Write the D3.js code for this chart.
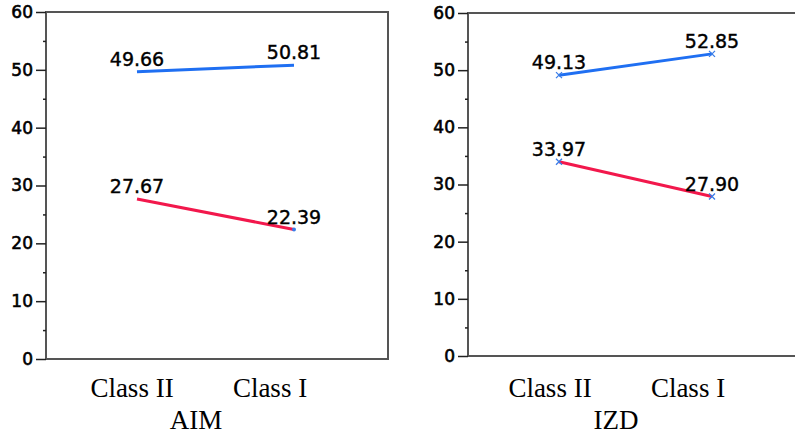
<!DOCTYPE html>
<html>
<head>
<meta charset="utf-8">
<script src="https://cdn.jsdelivr.net/npm/d3@7"></script>
<style>
body { margin: 0; background: #fff; }
.serif { font-family: "Liberation Serif", "DejaVu Serif", serif; }
.sans { font-family: "DejaVu Sans", sans-serif; }
</style>
</head>
<body>
<div id="chart"></div>
<script>
var w = 795
var h = 434

// data
var categories = ["Class II", "Class I"]
var panelTitles = ["AIM", "IZD"]
var upperValues = [[49.66, 50.81], [49.13, 52.85]]
var lowerValues = [[27.67, 22.39], [33.97, 27.90]]
var yTicks = [0, 10, 20, 30, 40, 50, 60]

var svg = d3.select("#chart").append("svg")
    .attr("width", w)
    .attr("height", h)

// panel boxes; cx = where the points sit, lx = where the category labels sit
var panels = [
    { left: 46, right: 388, top: 12, bottom: 359, cx: [137, 294], lx: [132, 270], tx: 196 },
    { left: 468, right: 797, top: 13, bottom: 356, cx: [559, 712], lx: [550, 688], tx: 616 }
]

panels.forEach(function (p, i) {
    var g = svg.append("g")

    var y = d3.scaleLinear().domain([0, 60]).range([p.bottom, p.top])
    var x = d3.scaleOrdinal().domain(categories).range(p.cx)
    var xl = d3.scaleOrdinal().domain(categories).range(p.lx)

    // frame
    g.append("rect")
        .attr("x", p.left)
        .attr("y", p.top)
        .attr("width", p.right - p.left)
        .attr("height", p.bottom - p.top)
        .attr("fill", "none")
        .attr("stroke", "#555")
        .attr("stroke-width", 2)

    // minor ticks
    g.append("g")
        .attr("transform", "translate(" + p.left + ",0)")
        .call(d3.axisLeft(y).tickValues(d3.range(5, 60, 10)).tickSize(3).tickFormat(""))
        .call(function (a) { a.select(".domain").remove() })
        .selectAll("line").attr("stroke", "#222").attr("stroke-width", 1.5)

    // major ticks
    var ax = g.append("g")
        .attr("transform", "translate(" + p.left + ",0)")
        .call(d3.axisLeft(y).tickValues(yTicks).tickSize(10).tickPadding(3))
    ax.attr("font-family", null).attr("font-size", null)
    ax.select(".domain").remove()
    ax.selectAll("line").attr("stroke", "#222").attr("stroke-width", 1.5)
    ax.selectAll("text")
        .attr("class", "sans")
        .style("font-size", "17px")
        .attr("fill", "#000")
        .attr("stroke", "#000")
        .attr("stroke-width", 0.6)

    // category labels
    g.selectAll(".cat")
        .data(categories)
        .enter().append("text")
        .attr("class", "serif")
        .attr("x", function (d) { return xl(d) })
        .attr("y", 397)
        .attr("text-anchor", "middle")
        .style("font-size", "27px")
        .text(function (d) { return d })

    g.append("text")
        .attr("class", "serif")
        .attr("x", p.tx)
        .attr("y", 429)
        .attr("text-anchor", "middle")
        .style("font-size", "27px")
        .text(panelTitles[i])

    var line = d3.line()
        .x(function (d, j) { return x(categories[j]) })
        .y(function (d) { return y(d) })

    var series = [
        { vals: upperValues[i], color: "#1f6ff2" },
        { vals: lowerValues[i], color: "#f2184c" }
    ]

    series.forEach(function (s, k) {
        g.append("path")
            .datum(s.vals)
            .attr("d", line)
            .attr("fill", "none")
            .attr("stroke", s.color)
            .attr("stroke-width", 3)

        // small x markers on the right panel
        if (i == 1) {
            s.vals.forEach(function (v, j) {
                var mx = x(categories[j]), my = y(v)
                g.append("path")
                    .attr("d", "M" + (mx - 3) + "," + (my - 3) + "L" + (mx + 3) + "," + (my + 3) +
                        "M" + (mx - 3) + "," + (my + 3) + "L" + (mx + 3) + "," + (my - 3))
                    .attr("stroke", "#3a7de8")
                    .attr("stroke-width", 1.3)
            })
        } else if (k == 1) {
            // tiny blue dot at the end of the red line, left panel
            g.append("circle")
                .attr("cx", x(categories[1]))
                .attr("cy", y(s.vals[1]))
                .attr("r", 2)
                .attr("fill", "#3a7de8")
        }

        g.selectAll(null)
            .data(s.vals)
            .enter().append("text")
            .attr("class", "sans")
            .attr("x", function (d, j) { return x(categories[j]) })
            .attr("y", function (d) { return y(d) - 6 })
            .attr("text-anchor", "middle")
            .style("font-size", "19px")
            .attr("fill", "#000")
            .attr("stroke", "#000")
            .attr("stroke-width", 0.4)
            .text(function (d) { return d.toFixed(2) })
    })
})
</script>
</body>
</html>
